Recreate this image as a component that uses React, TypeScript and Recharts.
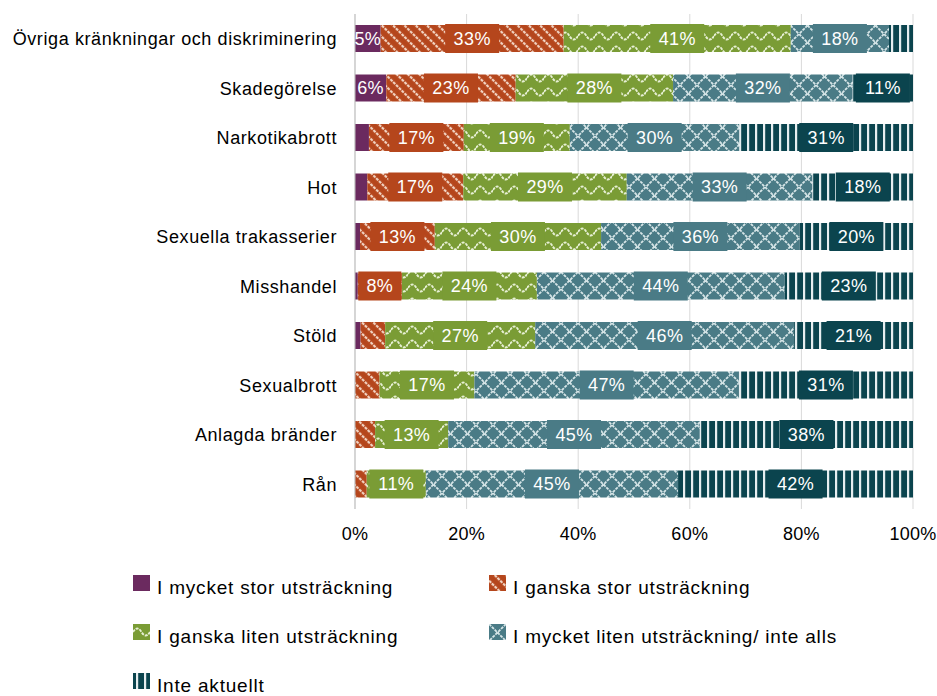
import { Bar, BarChart, CartesianGrid, LabelList, XAxis, YAxis } from "recharts";

const categories = [
  "Övriga kränkningar och diskriminering",
  "Skadegörelse",
  "Narkotikabrott",
  "Hot",
  "Sexuella trakasserier",
  "Misshandel",
  "Stöld",
  "Sexualbrott",
  "Anlagda bränder",
  "Rån",
];
const mycketStor = [4.6, 5.6, 2.5, 2.2, 0.9, 0.5, 1.0, 0, 0, 0];
const ganskaStor = [32.8, 23.2, 17.0, 17.2, 13.4, 7.9, 4.4, 4.4, 3.6, 2.1];
const ganskaLiten = [40.7, 28.2, 19.0, 29.3, 29.8, 24.2, 26.9, 17.0, 13.1, 10.6];
const mycketLiten = [17.6, 32.2, 30.4, 33.3, 35.6, 44.4, 46.4, 47.4, 45.1, 45.2];
const inteAktuellt = [4.3, 10.8, 31.1, 18.0, 20.3, 23.0, 21.3, 31.2, 38.2, 42.1];
const xTicks = [0, 20, 40, 60, 80, 100];

const series = [
  { key: "stor", name: "I mycket stor utsträckning", color: "#6B2A5F", fill: "#6B2A5F", box: false },
  { key: "gStor", name: "I ganska stor utsträckning", color: "#B5461C", fill: "url(#pStripe)", box: true },
  { key: "gLiten", name: "I ganska liten utsträckning", color: "#7A9C35", fill: "url(#pWave)", box: true },
  { key: "liten", name: "I mycket liten utsträckning/ inte alls", color: "#4A7B86", fill: "url(#pLattice)", box: true },
  { key: "inte", name: "Inte aktuellt", color: "#0B444E", fill: "url(#pVert)", box: true },
];

const data = categories.map((name, i) => ({
  name,
  stor: mycketStor[i],
  gStor: ganskaStor[i],
  gLiten: ganskaLiten[i],
  liten: mycketLiten[i],
  inte: inteAktuellt[i],
}));

const FONT = "'Liberation Sans', Arial, sans-serif";

function makeLabel(color: string, box: boolean) {
  return (props: any) => {
    const { x, y, width, height, value } = props;
    if (value == null || value < 4.5) return null;
    const text = `${Math.round(value)}%`;
    const tw = text.length === 2 ? 25 : 36;
    const bw = tw + 18;
    const cx = Number(x) + Number(width) / 2;
    const cy = Number(y) + Number(height) / 2;
    return (
      <g>
        {box && <rect x={cx - bw / 2} y={cy - height / 2 - 1} width={bw} height={Number(height) + 2} fill={color} />}
        <text x={cx} y={cy} dy="0.36em" textAnchor="middle" fill="#fff" fontSize={18} letterSpacing={0.4} fontFamily={FONT}>
          {text}
        </text>
      </g>
    );
  };
}

function YTick(props: any) {
  const { y, payload } = props;
  return (
    <text x={337} y={y} dy="0.36em" textAnchor="end" fill="#000" fontSize={18} letterSpacing={0.6} fontFamily={FONT}>
      {payload.value}
    </text>
  );
}

function Patterns() {
  return (
    <svg width={0} height={0} style={{ position: "absolute" }}>
      <defs>
        <pattern id="pStripe" width={8} height={8} patternUnits="userSpaceOnUse" patternTransform="rotate(-45)">
          <rect width={8} height={8} fill="#B5461C" />
          <line x1={4} y1={0} x2={4} y2={8} stroke="#F1D3C2" strokeWidth={2.2} strokeDasharray="3 1" />
        </pattern>
        <pattern id="pWave" width={17} height={14} patternUnits="userSpaceOnUse">
          <rect width={17} height={14} fill="#7A9C35" />
          <path d="M0 8 Q4.25 1 8.5 8 Q12.75 15 17 8" fill="none" stroke="#E6EFD3" strokeWidth={1.9} strokeDasharray="3 1" />
        </pattern>
        <pattern id="pLattice" width={17} height={17} patternUnits="userSpaceOnUse">
          <rect width={17} height={17} fill="#4A7B86" />
          <path d="M0 0 L17 17 M17 0 L0 17" stroke="#D6E5E7" strokeWidth={1.8} strokeDasharray="3 1" />
        </pattern>
        <pattern id="pVert" width={8} height={8} patternUnits="userSpaceOnUse">
          <rect width={8} height={8} fill="#0B444E" />
          <rect x={3} y={0} width={2.2} height={8} fill="#E6EEF0" />
        </pattern>
      </defs>
    </svg>
  );
}

const legendPos = [
  { left: 133, top: 575 },
  { left: 489, top: 575 },
  { left: 133, top: 624 },
  { left: 489, top: 624 },
  { left: 133, top: 673 },
];

export default function App() {
  return (
    <div style={{ position: "relative", width: 937, height: 696, background: "#fff", fontFamily: FONT, overflow: "hidden" }}>
      <style>{"body{margin:0}"}</style>
      <Patterns />
      <BarChart
        width={937}
        height={696}
        data={data}
        layout="vertical"
        margin={{ top: 14, right: 24, bottom: 157, left: 0 }}
        barSize={27}
      >
        <CartesianGrid horizontal={false} stroke="#d9d9d9" />
        <XAxis
          type="number"
          domain={[0, 100]}
          ticks={xTicks}
          tickFormatter={(v) => `${v}%`}
          axisLine={false}
          tickLine={false}
          height={30}
          tick={{ fontSize: 18, fill: "#000", fontFamily: FONT, letterSpacing: 0.3 }}
          tickMargin={12}
        />
        <YAxis
          type="category"
          dataKey="name"
          width={355}
          axisLine={{ stroke: "#bfbfbf" }}
          tickLine={false}
          tick={<YTick />}
        />
        {series.map((s) => (
          <Bar key={s.key} dataKey={s.key} stackId="a" fill={s.fill} isAnimationActive={false}>
            <LabelList dataKey={s.key} content={makeLabel(s.color, s.box)} />
          </Bar>
        ))}
      </BarChart>
      {series.map((s, i) => (
        <div key={s.key}>
          <svg
            width={17}
            height={16}
            style={{ position: "absolute", left: legendPos[i].left, top: legendPos[i].top }}
          >
            <rect width={17} height={16} fill={s.fill} />
          </svg>
          <span
            style={{
              position: "absolute",
              left: legendPos[i].left + 24,
              top: legendPos[i].top + 3,
              fontSize: 19,
              lineHeight: "19px",
              letterSpacing: 0.8,
              color: "#000",
              whiteSpace: "nowrap",
            }}
          >
            {s.name}
          </span>
        </div>
      ))}
    </div>
  );
}
